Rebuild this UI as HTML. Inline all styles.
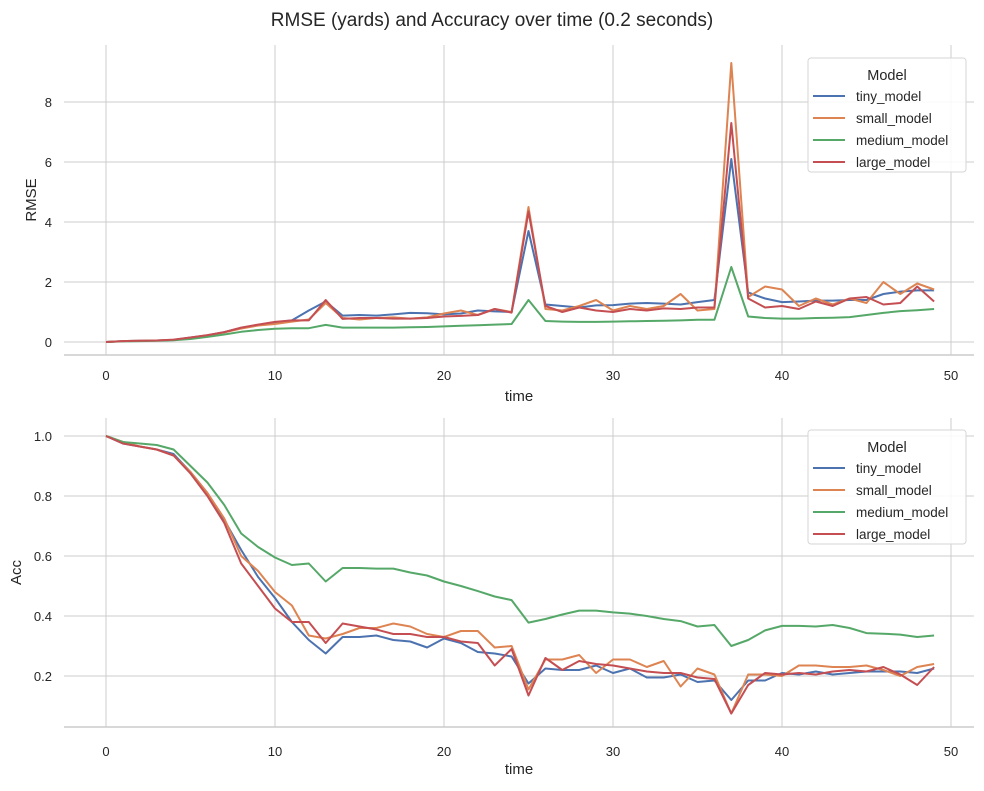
<!DOCTYPE html>
<html><head><meta charset="utf-8"><style>
body{margin:0;background:#fff;font-family:"Liberation Sans","DejaVu Sans",sans-serif}
svg text{font-family:"Liberation Sans","DejaVu Sans",sans-serif;fill:#262626}
</style></head><body>
<svg id="chart" width="984" height="786" xmlns="http://www.w3.org/2000/svg">
<text x="492" y="26" font-size="19" text-anchor="middle">RMSE (yards) and Accuracy over time (0.2 seconds)</text>
<g id="top"></g>
<g id="bot"></g>
</svg>
<script>
const models = ["tiny_model","small_model","medium_model","large_model"];
const colors = ["#4c72b0","#dd8452","#55a868","#c44e52"];
const xTicks = [0,10,20,30,40,50];
const rmseTicks = [0,2,4,6,8];
const accTicks = [0.2,0.4,0.6,0.8,1.0];
const rmseTiny = [0,0.03,0.04,0.05,0.07,0.15,0.22,0.33,0.47,0.56,0.65,0.72,1.05,1.35,0.88,0.9,0.88,0.92,0.97,0.96,0.92,0.95,1.05,1.02,1.0,3.7,1.25,1.2,1.15,1.22,1.23,1.28,1.3,1.28,1.25,1.33,1.4,6.1,1.65,1.45,1.33,1.35,1.38,1.38,1.4,1.4,1.6,1.68,1.72,1.72];
const rmseSmall = [0,0.03,0.04,0.05,0.07,0.14,0.22,0.32,0.45,0.55,0.6,0.68,0.75,1.3,0.8,0.75,0.8,0.82,0.78,0.82,0.95,1.05,0.9,1.1,1.0,4.5,1.1,1.05,1.2,1.4,1.05,1.2,1.1,1.2,1.6,1.05,1.1,9.3,1.5,1.85,1.75,1.2,1.45,1.25,1.45,1.3,2.0,1.6,1.95,1.75];
const rmseMedium = [0,0.02,0.03,0.04,0.06,0.1,0.17,0.25,0.34,0.4,0.44,0.46,0.46,0.57,0.48,0.48,0.48,0.48,0.49,0.5,0.52,0.54,0.56,0.58,0.6,1.4,0.7,0.68,0.67,0.67,0.68,0.69,0.7,0.71,0.72,0.74,0.74,2.5,0.85,0.8,0.78,0.78,0.8,0.81,0.83,0.9,0.97,1.03,1.06,1.1];
const rmseLarge = [0,0.03,0.04,0.05,0.08,0.15,0.23,0.33,0.48,0.58,0.67,0.72,0.72,1.4,0.77,0.8,0.8,0.78,0.78,0.8,0.85,0.87,0.9,1.1,0.98,4.35,1.2,1.0,1.15,1.05,1.0,1.1,1.05,1.12,1.1,1.15,1.15,7.3,1.45,1.15,1.2,1.1,1.35,1.2,1.45,1.5,1.25,1.3,1.85,1.35];
const accTiny = [1.0,0.975,0.965,0.955,0.94,0.88,0.81,0.72,0.62,0.53,0.46,0.38,0.32,0.275,0.33,0.33,0.335,0.32,0.315,0.295,0.325,0.31,0.28,0.275,0.265,0.175,0.225,0.22,0.22,0.235,0.21,0.225,0.195,0.195,0.205,0.18,0.185,0.12,0.185,0.185,0.21,0.205,0.215,0.205,0.21,0.215,0.215,0.215,0.21,0.225];
const accSmall = [1.0,0.98,0.965,0.955,0.935,0.88,0.81,0.725,0.6,0.55,0.48,0.435,0.335,0.325,0.34,0.36,0.36,0.375,0.365,0.34,0.33,0.35,0.35,0.295,0.3,0.155,0.255,0.255,0.27,0.21,0.255,0.255,0.23,0.25,0.165,0.225,0.205,0.075,0.205,0.205,0.2,0.235,0.235,0.23,0.23,0.235,0.22,0.2,0.23,0.24];
const accMedium = [1.0,0.98,0.975,0.97,0.955,0.9,0.845,0.77,0.675,0.63,0.595,0.57,0.575,0.515,0.56,0.56,0.558,0.558,0.545,0.535,0.515,0.5,0.483,0.465,0.453,0.378,0.39,0.405,0.418,0.418,0.412,0.408,0.4,0.39,0.383,0.365,0.37,0.3,0.32,0.352,0.367,0.367,0.365,0.37,0.36,0.343,0.341,0.338,0.33,0.335];
const accLarge = [1.0,0.975,0.965,0.955,0.935,0.875,0.8,0.71,0.575,0.5,0.425,0.38,0.38,0.31,0.375,0.365,0.355,0.34,0.34,0.33,0.33,0.315,0.31,0.235,0.29,0.135,0.26,0.22,0.25,0.24,0.235,0.225,0.215,0.21,0.21,0.195,0.19,0.075,0.17,0.21,0.205,0.21,0.205,0.215,0.22,0.215,0.23,0.205,0.17,0.23];

const NS="http://www.w3.org/2000/svg";
function mk(parent,tag,attrs,text){const e=document.createElementNS(NS,tag);for(const k in attrs)e.setAttribute(k,attrs[k]);if(text!==undefined)e.textContent=text;parent.appendChild(e);return e;}
const xScale=v=>106+v*16.9;

function panel(g,cfg){
  const {top,bottom,yScale,yTicks,fmt,ylabel,series,xlabelY,tickY,legendY}=cfg;
  yTicks.forEach(t=>{
    const l=mk(g,'line',{x1:64,x2:974,y1:yScale(t),y2:yScale(t),stroke:'#cccccc','stroke-width':1});
    
    
    const tx=mk(g,'text',{x:52,y:yScale(t)+5,'font-size':13,'text-anchor':'end'},fmt(t));
    
    
  });
  xTicks.forEach(t=>{
    const l=mk(g,'line',{x1:xScale(t),x2:xScale(t),y1:top,y2:bottom,stroke:'#cccccc','stroke-width':1});
    
    
    const tx=mk(g,'text',{x:xScale(t),y:tickY,'font-size':13,'text-anchor':'middle'},String(t));
    
    
  });
  const ax=mk(g,'line',{x1:64,x2:974,y1:bottom,y2:bottom,stroke:'#cccccc','stroke-width':1.6});
  
  
  const xl=mk(g,'text',{x:519,y:xlabelY,'font-size':15,'text-anchor':'middle'},'time');
  
  
  const yc=(top+bottom)/2;
  const yl=mk(g,'text',{x:0,y:0,'font-size':15,'text-anchor':'middle',transform:`translate(${cfg.ylabelX},${yc}) rotate(-90)`},ylabel);
  
  
  series.forEach((s,i)=>{
    const d=s.map((v,j)=>(j?'L':'M')+xScale(j).toFixed(1)+','+yScale(v).toFixed(1)).join(' ');
    const p=mk(g,'path',{d,fill:'none',stroke:colors[i],'stroke-width':2,'stroke-linejoin':'round'});
    
    
  });
  const lg=mk(g,'g',{});
  
  
  mk(lg,'rect',{x:808,y:legendY,width:158,height:114,rx:3,fill:'#fff','fill-opacity':0.85,stroke:'#d6d6d6'});
  mk(lg,'text',{x:887,y:legendY+22,'font-size':14.5,'text-anchor':'middle'},'Model');
  models.forEach((m,i)=>{
    const yy=legendY+43+i*22;
    const e=mk(lg,'g',{});
    
    
    mk(e,'line',{x1:813,x2:845,y1:yy-5,y2:yy-5,stroke:colors[i],'stroke-width':2});
    mk(e,'text',{x:856,y:yy,'font-size':13.5},m);
  });
}
panel(document.getElementById('top'),{top:45,bottom:355,yScale:v=>342-v*30,yTicks:rmseTicks,fmt:t=>String(t),ylabel:'RMSE',ylabelX:36,
  series:[rmseTiny,rmseSmall,rmseMedium,rmseLarge],xlabelY:401,tickY:380,legendY:58});
panel(document.getElementById('bot'),{top:418,bottom:727,yScale:v=>436+(1-v)*300,yTicks:accTicks,fmt:t=>t.toFixed(1),ylabel:'Acc',ylabelX:21,
  series:[accTiny,accSmall,accMedium,accLarge],xlabelY:774,tickY:756,legendY:430});
</script>
</body></html>
